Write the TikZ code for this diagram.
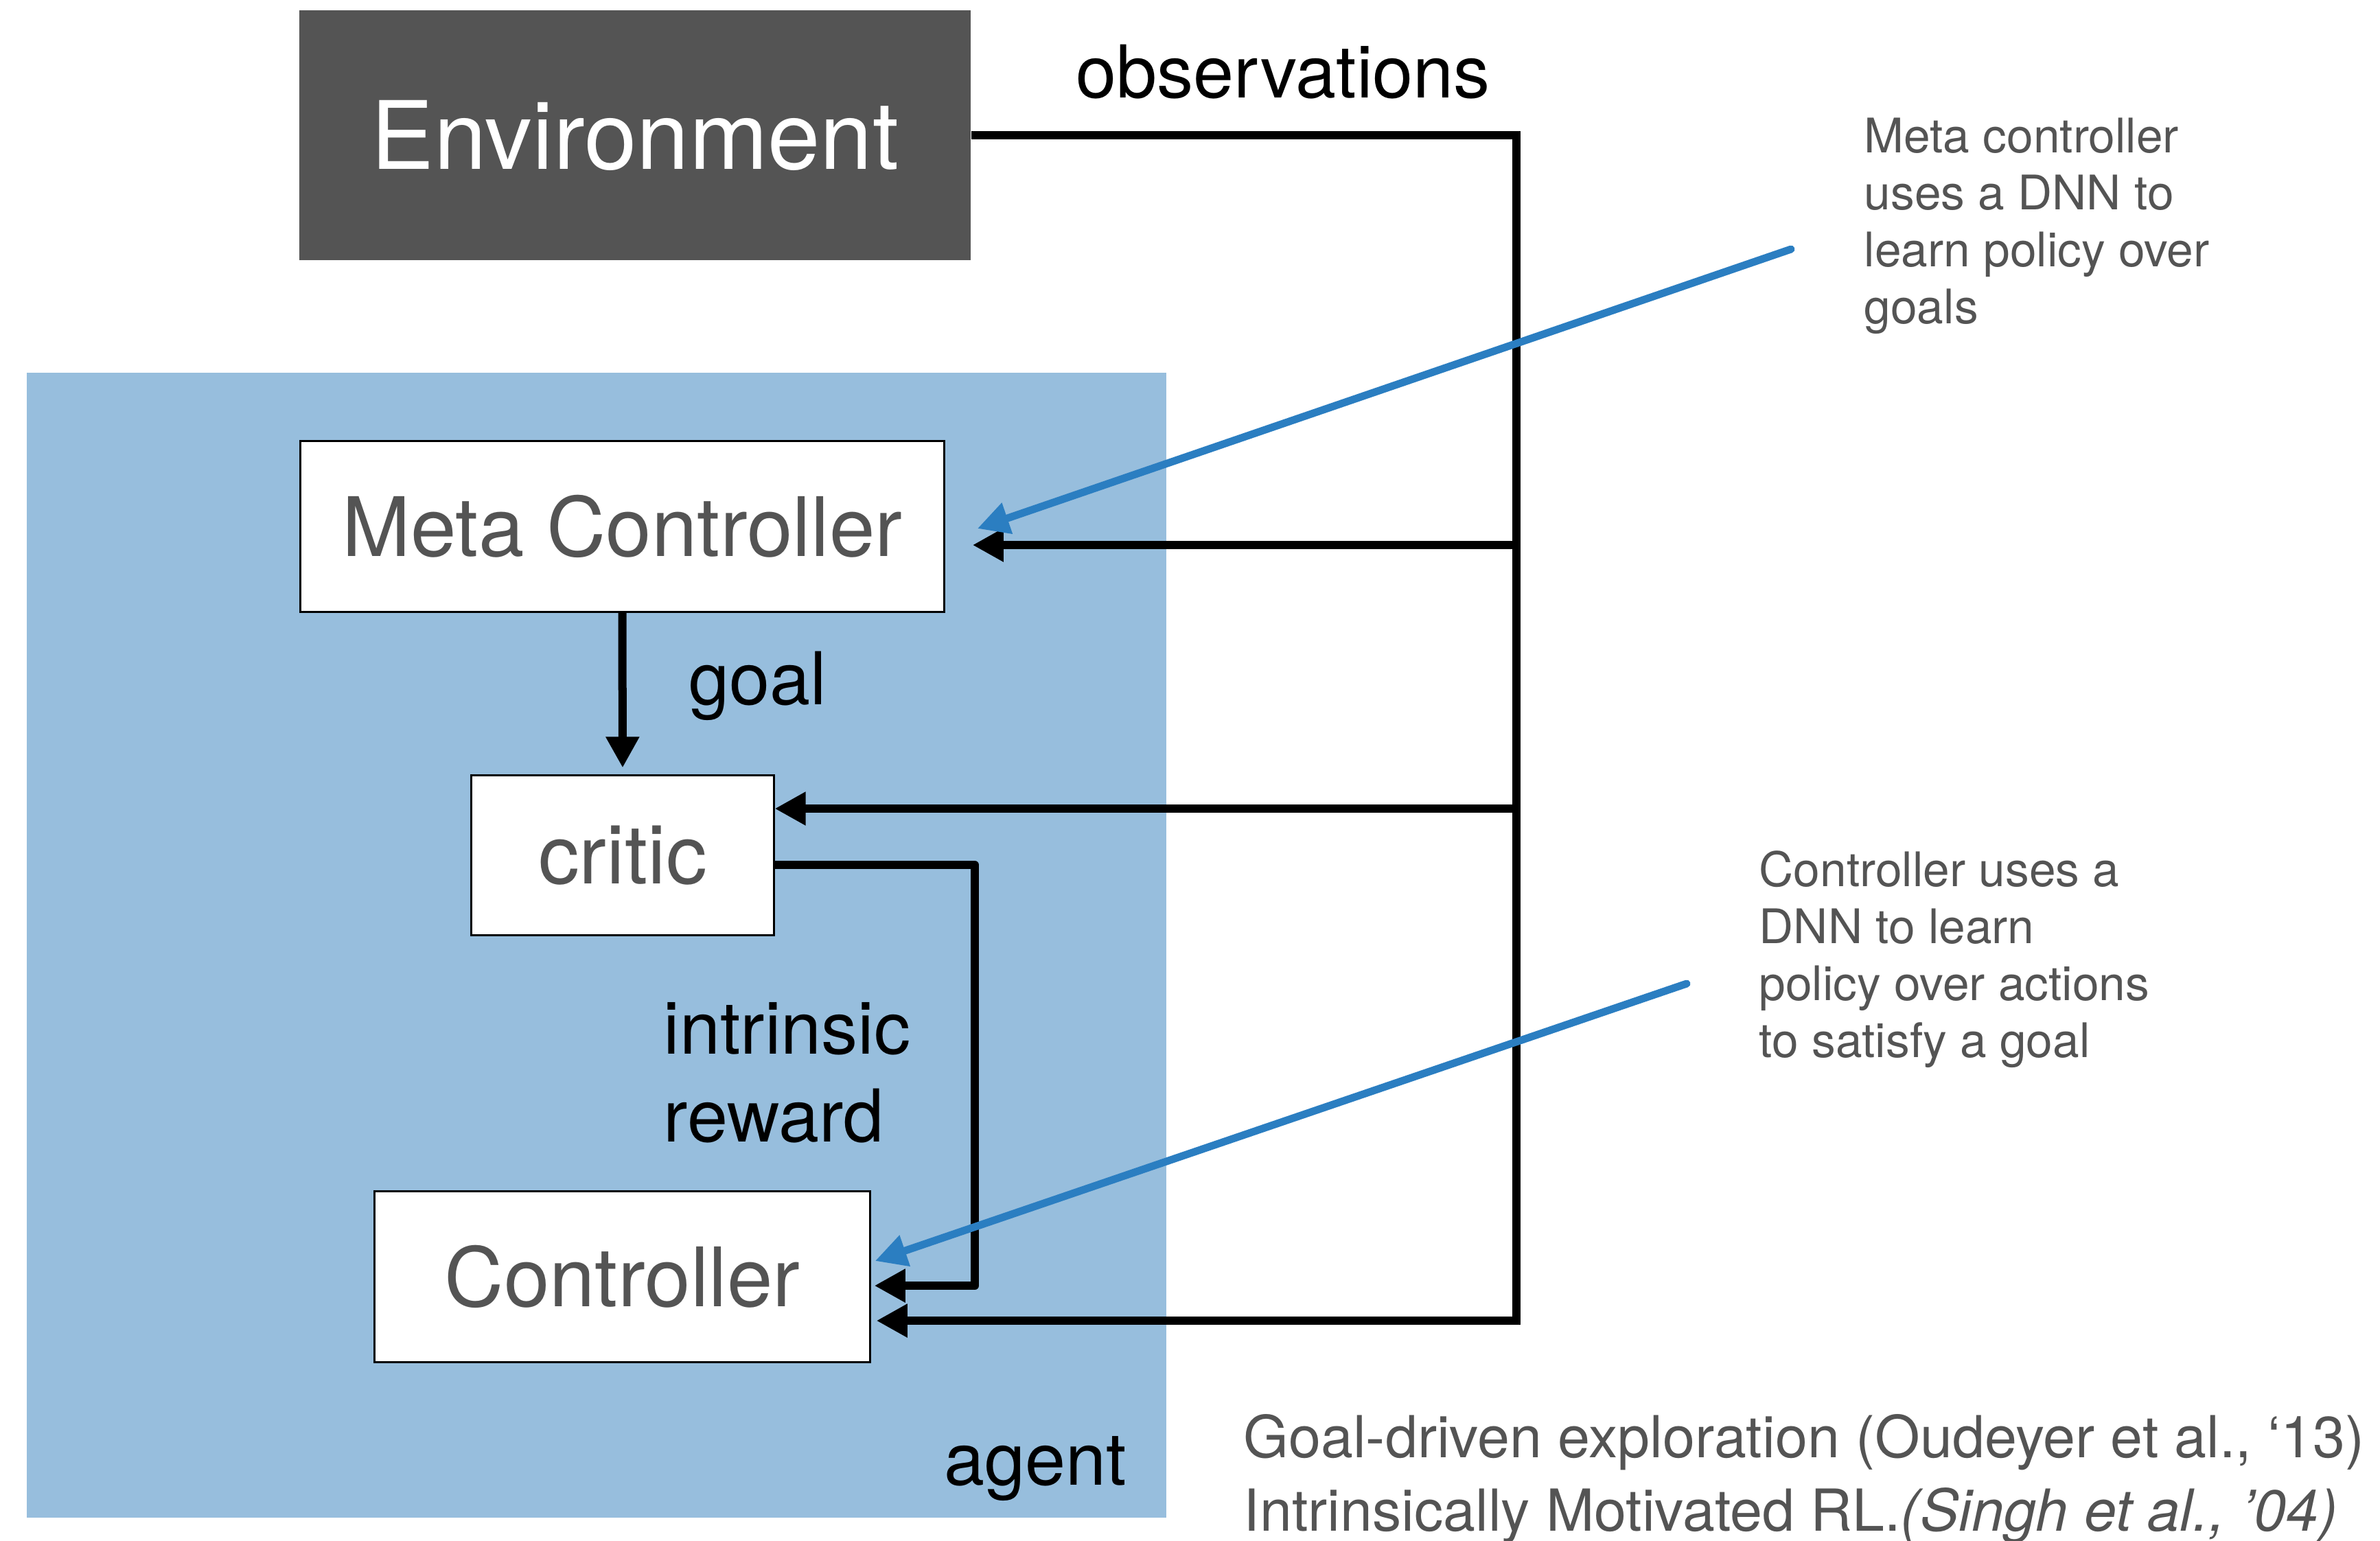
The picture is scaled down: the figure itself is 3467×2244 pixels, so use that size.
\documentclass[tikz,border=0pt]{standalone}
\usepackage{fontspec}
\setmainfont{TeX Gyre Heros}
\usetikzlibrary{arrows.meta,calc}
\definecolor{envgray}{HTML}{545454}
\definecolor{txtgray}{HTML}{545454}
\definecolor{agentblue}{HTML}{97BEDD}
\definecolor{noteblue}{HTML}{2B7EC1}

\begin{document}
\begin{tikzpicture}[x=0.01cm,y=-0.01cm,
  box/.style={draw=black, line width=0.85pt, fill=white, inner sep=0pt,
    text=txtgray, font=\fontsize{34pt}{40pt}\selectfont},
  lbl/.style={inner sep=0pt, anchor=base west, text=black,
    font=\fontsize{30.2pt}{36.4pt}\selectfont},
  note/.style={inner sep=0pt, anchor=base west, align=left, text=txtgray,
    font=\fontsize{19.75pt}{23.6pt}\selectfont},
  wire/.style={line width=0.12cm, draw=black},
  feed/.style={wire, -{Triangle[length=0.45cm,width=0.46cm]}},
  hint/.style={line width=0.11cm, draw=noteblue, line cap=round,
    -{Triangle[length=0.46cm,width=0.45cm]}},
]
\useasboundingbox (0,0) rectangle (3467,2244);

% agent region
\node[fill=agentblue, inner sep=0pt, minimum width=16.59cm, minimum height=16.67cm,
  anchor=north west] (agentbox) at (38,542) {};

% environment
\node[fill=envgray, inner sep=0pt, minimum width=9.77cm, minimum height=3.64cm,
  text=white, font=\fontsize{39.1pt}{46pt}\selectfont] (env) at (925,197) {Environment};

% agent modules
\node[box, minimum width=9.37cm, minimum height=2.48cm] (meta) at (906.5,767) {Meta Controller};
\node[box, minimum width=4.40cm, minimum height=2.32cm] (critic) at (907,1246) {critic};
\node[box, minimum width=7.21cm, minimum height=2.48cm] (ctrl) at (906.5,1860) {Controller};

% observation bus
\coordinate (bustop) at (2209,197);
\coordinate (busbot) at (2209,1924);
\coordinate (tapmeta) at (2209,794);
\coordinate (tapcritic) at (2209,1178);
\draw[feed] (env.east) -- (bustop) -- (busbot) -- ([xshift=0.08cm]ctrl.east |- busbot);
\draw[feed, shorten >=0.40cm] (tapmeta) -- (tapmeta -| meta.east);
\draw[feed] (tapcritic) -- (tapcritic -| critic.east);

% goal and intrinsic reward
\draw[feed, shorten >=0.10cm] (meta.south) -- (critic.north);
\coordinate (rbend) at (1420,1260);
\coordinate (rdrop) at (1420,1873);
\draw[feed, line join=round] (critic.east |- rbend) -- (rbend) -- (rdrop)
  -- ([xshift=0.05cm]ctrl.east |- rdrop);

% labels (multi-line nodes are placed by the baseline of their last line)
\node[lbl] (obs) at (1567,142) {observations};
\node[lbl] (goal) at (1003,1026) {goal};
\node[lbl, align=left] (intr) at (966,1663) {intrinsic\\reward};
\node[lbl] (agentlbl) at (1375,2163) {agent};

% annotations
\node[note] (note1) at (2715,471) {Meta controller\\uses a DNN to\\learn policy over\\goals};
\node[note] (note2) at (2562,1540) {Controller uses a\\DNN to learn\\policy over actions\\to satisfy a goal};
\coordinate (hint1) at (2609,363);
\coordinate (hint2) at (2457,1433);
\draw[hint] (hint1) -- ($(meta.east)+(47,3)$);
\draw[hint] (hint2) -- ($(ctrl.east)+(6,-23)$);

% references
\node[inner sep=0pt, anchor=base west, align=left, text=txtgray,
  font=\fontsize{24pt}{30.2pt}\selectfont] (refs) at (1811,2230)
  {Goal-driven exploration (Oudeyer et al., ‘13)\\Intrinsically Motivated RL.\textit{(Singh et al., ’04)}};
\end{tikzpicture}
\end{document}
